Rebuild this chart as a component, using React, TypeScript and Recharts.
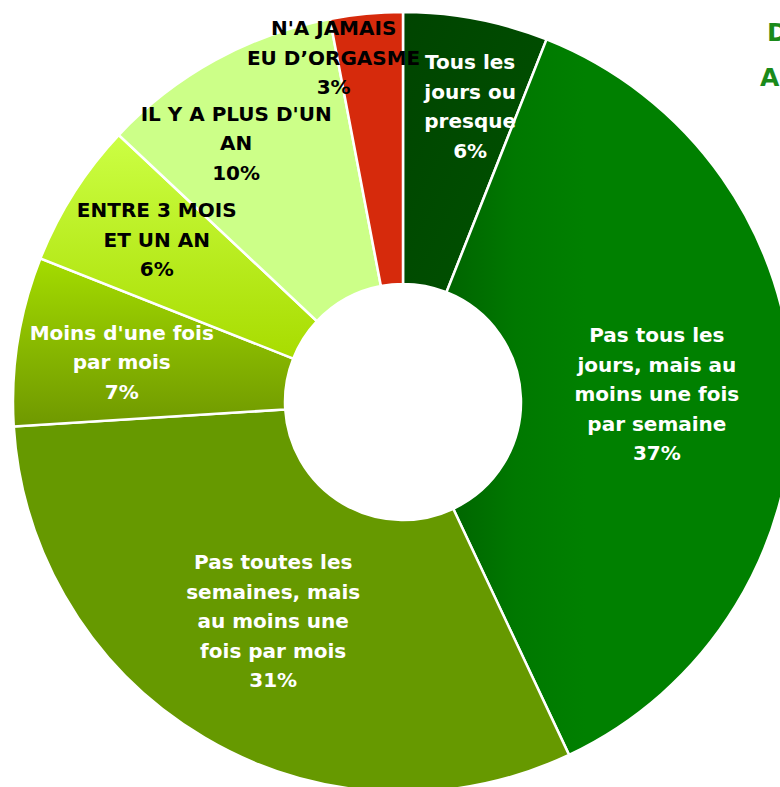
import { PieChart, Pie, Cell } from "recharts";

const categories = [
  ["Tous les", "jours ou", "presque"],
  ["Pas tous les", "jours, mais au", "moins une fois", "par semaine"],
  ["Pas toutes les", "semaines, mais", "au moins une", "fois par mois"],
  ["Moins d'une fois", "par mois"],
  ["ENTRE 3 MOIS", "ET UN AN"],
  ["IL Y A PLUS D'UN", "AN"],
  ["N'A JAMAIS", "EU D\u2019ORGASME"],
];
const values = [6, 37, 31, 7, 6, 10, 3];
const percentLabels = ["6%", "37%", "31%", "7%", "6%", "10%", "3%"];

const FILLS = ["url(#g0)", "url(#g1)", "#669900", "url(#g3)", "url(#g4)", "#ccff88", "#d62a0c"];
const TEXT_COLORS = ["#fff", "#fff", "#fff", "#fff", "#000", "#000", "#000"];
// label placement: radius and compass tweak in degrees
const LABEL_R = [303, 254, 255, 284, 295, 308, 351];
const LABEL_TWEAK = [2, 0, 0, -1, 1, -4, -6];

const RAD = Math.PI / 180;
const FONT = "Tahoma, 'DejaVu Sans', sans-serif";

const data = categories.map((lines, i) => ({ name: lines.join(" "), value: values[i] }));

function renderLabel(props: any) {
  const { cx, cy, midAngle, index } = props;
  const r = LABEL_R[index];
  const a = midAngle - LABEL_TWEAK[index];
  const x = cx + r * Math.cos(-a * RAD);
  const y = cy + r * Math.sin(-a * RAD);
  const lines = [...categories[index], percentLabels[index]];
  const lh = 29.5;
  const top = y - ((lines.length - 1) * lh) / 2;
  return (
    <text
      key={index}
      x={x}
      y={top}
      fill={TEXT_COLORS[index]}
      textAnchor="middle"
      dominantBaseline="central"
      fontFamily={FONT}
      fontWeight="bold"
      fontSize={20}
    >
      {lines.map((l, j) => (
        <tspan key={j} x={x} y={top + j * lh}>
          {l}
        </tspan>
      ))}
    </text>
  );
}

export default function App() {
  return (
    <div style={{ position: "absolute", left: 0, top: 0, width: 780, height: 787, overflow: "hidden", background: "#fff" }}>
      <PieChart width={780} height={787} margin={{ top: 0, right: 0, bottom: 0, left: 0 }}>
        <defs>
          <linearGradient id="g0" x1="0" y1="0" x2="1" y2="1">
            <stop offset="0%" stopColor="#004400" />
            <stop offset="100%" stopColor="#005300" />
          </linearGradient>
          <linearGradient id="g1" x1="0" y1="0" x2="1" y2="0">
            <stop offset="0%" stopColor="#006400" />
            <stop offset="20%" stopColor="#007800" />
            <stop offset="40%" stopColor="#008000" />
            <stop offset="100%" stopColor="#008000" />
          </linearGradient>
          <linearGradient id="g3" x1="0" y1="0" x2="0" y2="1">
            <stop offset="0%" stopColor="#a4dc00" />
            <stop offset="100%" stopColor="#6f9800" />
          </linearGradient>
          <linearGradient id="g4" x1="0" y1="0" x2="0" y2="1">
            <stop offset="0%" stopColor="#ccff44" />
            <stop offset="100%" stopColor="#a8dc00" />
          </linearGradient>
        </defs>
        <Pie
          data={data}
          dataKey="value"
          cx={403}
          cy={402}
          innerRadius={118}
          outerRadius={390}
          startAngle={90}
          endAngle={-270}
          stroke="#ffffff"
          strokeWidth={2.5}
          label={renderLabel}
          labelLine={false}
          isAnimationActive={false}
        >
          {data.map((_, i) => (
            <Cell key={i} fill={FILLS[i]} />
          ))}
        </Pie>
      </PieChart>
      <div style={{ position: "absolute", left: 767, top: 18, color: "#1a8a1a", fontFamily: FONT, fontWeight: "bold", fontSize: 25, whiteSpace: "nowrap" }}>D</div>
      <div style={{ position: "absolute", left: 760, top: 63, color: "#1a8a1a", fontFamily: FONT, fontWeight: "bold", fontSize: 25, whiteSpace: "nowrap" }}>A</div>
    </div>
  );
}
